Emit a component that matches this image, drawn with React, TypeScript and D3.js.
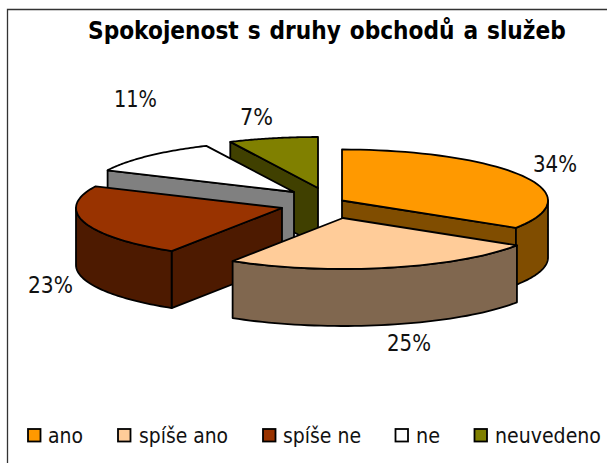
import React, { useLayoutEffect, useRef } from "react";
import * as d3 from "d3";

const categories = ["ano", "spíše ano", "spíše ne", "ne", "neuvedeno"];
const shares = [34, 25, 23, 11, 7];
const valueLabels = ["34%", "25%", "23%", "11%", "7%"];
const topColors = ["#FF9900", "#FFCC99", "#993300", "#FFFFFF", "#808000"];
const sideColors = ["#804D00", "#80674F", "#4D1A00", "#808080", "#404000"];

// layout only
const W = 607, H = 463;
const RX = 206, RY = 51, DEPTH = 57;
const apexes: [number, number][] = [[342, 200.5], [343, 218], [282, 208], [294, 192], [318, 188]];
const labelLeft: [number, number][] = [[533, 172], [387, 351], [28, 293], [114, 107], [240, 125]];
const labelWidths = [44, 44, 45, 43, 33];
const legendSwatchX = [28, 118, 263, 395.5, 474.5];
const legendTextX = [48, 139, 283, 416, 495];
const legendTextW = [35, 89, 78, 24, 106];
const drawOrder = [4, 3, 2, 0, 1];

const pie = d3.pie<number>().sort(null).startAngle(0).endAngle(2 * Math.PI);
const arcs = pie(shares);

const px = d3.scaleLinear().domain([-1, 1]).range([-RX, RX]);
const py = d3.scaleLinear().domain([-1, 1]).range([-RY, RY]);
const pt = (c: [number, number], a: number, dy = 0): [number, number] => [
  c[0] + px(Math.sin(a)),
  c[1] + py(-Math.cos(a)) + dy,
];
const line = d3.line();

function arcPts(c: [number, number], a0: number, a1: number, dy = 0) {
  return d3.range(0, 49).map((i) => pt(c, a0 + ((a1 - a0) * i) / 48, dy));
}

function Slice({ i }: { i: number }) {
  const c = apexes[i];
  const { startAngle: a0, endAngle: a1 } = arcs[i];
  const top = line([c, ...arcPts(c, a0, a1)]) + "Z";
  const common = { stroke: "#000", strokeWidth: 1.8, strokeLinejoin: "round" as const };
  const cutWall = (a: number) =>
    line([c, pt(c, a), pt(c, a, DEPTH), [c[0], c[1] + DEPTH]]) + "Z";
  const rimA0 = Math.max(a0, Math.PI / 2);
  const rimA1 = Math.min(a1, (3 * Math.PI) / 2);
  const rim =
    rimA1 > rimA0
      ? line([...arcPts(c, rimA0, rimA1), ...arcPts(c, rimA1, rimA0, DEPTH)]) + "Z"
      : null;
  return (
    <g>
      {Math.sin(a0) < -1e-6 && <path d={cutWall(a0)} fill={sideColors[i]} {...common} />}
      {Math.sin(a1) > 1e-6 && <path d={cutWall(a1)} fill={sideColors[i]} {...common} />}
      {rim && <path d={rim} fill={sideColors[i]} {...common} />}
      <path d={top} fill={topColors[i]} {...common} />
    </g>
  );
}

// Text squeezed horizontally to a measured width (the reference face is narrower than DejaVu).
function FitText({ x, y, width, children, ...rest }: any) {
  const ref = useRef<SVGTextElement>(null);
  useLayoutEffect(() => {
    const el = ref.current;
    if (!el) return;
    const natural = el.getComputedTextLength();
    el.setAttribute("transform", `translate(${x},${y}) scale(${width / natural},1)`);
  }, [x, y, width]);
  return (
    <text ref={ref} transform={`translate(${x},${y}) scale(0.85,1)`} {...rest}>
      {children}
    </text>
  );
}

export default function App() {
  const font = "'DejaVu Sans', Verdana, sans-serif";
  return (
    <svg
      width={W}
      height={H}
      viewBox={`0 0 ${W} ${H}`}
      style={{ position: "absolute", left: 0, top: 0, background: "#fff" }}
    >
      <path d={`M7.5 ${H}V9.5H${W}`} fill="none" stroke="#333" strokeWidth={1.3} />
      <FitText x={88} y={38.5} width={478} fontFamily={font} fontWeight="bold" fontSize={24} wordSpacing={1.5}>
        Spokojenost s druhy obchodů a služeb
      </FitText>
      {drawOrder.map((i) => (
        <Slice key={i} i={i} />
      ))}
      {valueLabels.map((t, i) => (
        <FitText
          key={t}
          x={labelLeft[i][0]}
          y={labelLeft[i][1]}
          width={labelWidths[i]}
          fontFamily={font}
          fontSize={22.5}
          fill="#111"
        >
          {t}
        </FitText>
      ))}
      {categories.map((t, i) => (
        <g key={t}>
          <rect
            x={legendSwatchX[i]}
            y={429}
            width={12.5}
            height={12.5}
            fill={topColors[i]}
            stroke="#000"
            strokeWidth={1.8}
          />
          <FitText x={legendTextX[i]} y={443.3} width={legendTextW[i]} fontFamily={font} fontSize={22} fill="#111">
            {t}
          </FitText>
        </g>
      ))}
    </svg>
  );
}
